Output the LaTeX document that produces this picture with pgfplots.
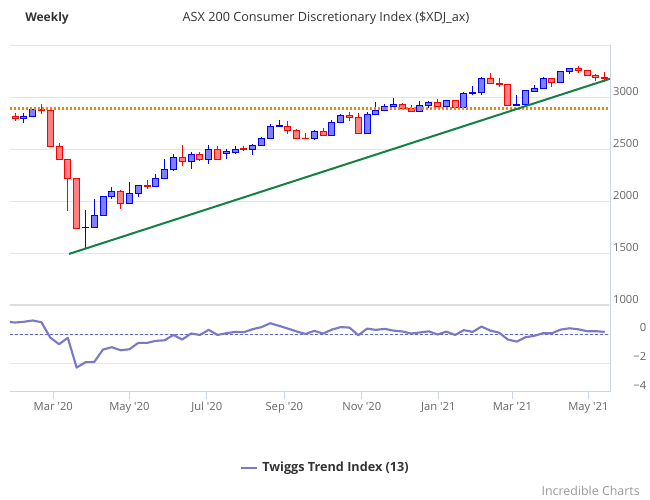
\documentclass[border=0pt]{standalone}
\usepackage{pgfplots}
\pgfplotsset{compat=1.18}
\usepackage{pgfplotstable}
\usepackage{fontspec}
\setmainfont{Open Sans}
\definecolor{upfill}{RGB}{128,128,255}
\definecolor{upline}{RGB}{0,0,255}
\definecolor{dnfill}{RGB}{255,128,128}
\definecolor{dnline}{RGB}{255,0,0}
\definecolor{gridgray}{RGB}{230,230,230}
\definecolor{sepgray}{RGB}{222,222,222}
\definecolor{axisblue}{RGB}{204,214,235}
\definecolor{labelgray}{RGB}{102,102,102}
\definecolor{titlegray}{RGB}{51,51,51}
\definecolor{creditgray}{RGB}{153,153,153}
\definecolor{trendorange}{RGB}{255,128,0}
\definecolor{trendgreen}{RGB}{20,128,70}
\definecolor{tticolor}{RGB}{122,122,196}
\definecolor{zeroblue}{RGB}{100,100,210}

\pgfplotstableread{
i o h l c
0 2814 2846 2776 2798
1 2798 2846 2756 2817
2 2814 2891 2808 2885
3 2881 2936 2840 2875
4 2875 2878 2526 2529
5 2529 2558 2400 2404
6 2404 2404 1910 2221
7 2221 2221 1731 1740
8 1744 1917 1555 1750
9 1750 2022 1750 1865
10 1865 2045 1865 2045
11 2045 2135 2026 2099
12 2099 2109 1930 1981
13 1981 2186 1981 2077
14 2077 2154 2045 2154
15 2154 2202 2122 2147
16 2144 2263 2144 2221
17 2221 2407 2221 2308
18 2308 2455 2295 2423
19 2423 2542 2343 2385
20 2385 2474 2314 2452
21 2452 2474 2391 2404
22 2404 2542 2362 2500
23 2500 2532 2395 2404
24 2455 2500 2410 2474
25 2471 2529 2452 2500
26 2503 2529 2484 2497
27 2500 2551 2449 2538
28 2538 2622 2532 2606
29 2606 2744 2596 2721
30 2718 2779 2715 2724
31 2721 2769 2644 2683
32 2683 2692 2596 2606
33 2608 2654 2602 2604
34 2606 2683 2587 2673
35 2673 2702 2625 2635
36 2635 2779 2635 2760
37 2760 2837 2753 2827
38 2827 2856 2769 2808
39 2808 2846 2652 2654
40 2654 2856 2644 2837
41 2837 2952 2827 2875
42 2875 2933 2865 2913
43 2913 2990 2911 2933
44 2933 2942 2878 2894
45 2894 2923 2856 2865
46 2863 2965 2857 2920
47 2920 2962 2901 2949
48 2949 2984 2904 2911
49 2911 2970 2901 2968
50 2968 2978 2899 2901
51 2901 3054 2895 3035
52 3035 3105 3022 3045
53 3045 3194 3019 3178
54 3178 3229 3128 3131
55 3131 3188 3099 3121
56 3121 3127 2914 2920
57 2924 3019 2920 2930
58 2930 3073 2928 3064
59 3054 3121 3051 3083
60 3083 3194 3076 3178
61 3178 3188 3102 3140
62 3140 3248 3138 3245
63 3245 3283 3226 3274
64 3274 3303 3236 3255
65 3255 3264 3204 3207
66 3207 3226 3156 3188
67 3190 3242 3146 3185
}\ohlc

\pgfplotstableread{
i v
-1 0.86
0 0.81
1 0.86
2 0.95
3 0.83
4 -0.23
5 -0.69
6 -0.25
7 -2.31
8 -1.94
9 -1.92
10 -1.06
11 -0.90
12 -1.11
13 -1.04
14 -0.60
15 -0.60
16 -0.46
17 -0.42
18 -0.05
19 -0.37
20 0.05
21 -0.05
22 0.30
23 -0.05
24 0.07
25 0.16
26 0.14
27 0.35
28 0.49
29 0.76
30 0.58
31 0.39
32 0.19
33 0.02
34 0.23
35 0.05
36 0.32
37 0.49
38 0.46
39 -0.07
40 0.39
41 0.30
42 0.37
43 0.25
44 0.19
45 0.05
46 0.12
47 0.20
48 -0.02
49 0.18
50 -0.05
51 0.28
52 0.16
53 0.53
54 0.25
55 0.11
56 -0.37
57 -0.51
58 -0.21
59 -0.11
60 0.07
61 0.07
62 0.32
63 0.41
64 0.34
65 0.21
66 0.21
67 0.16
}\tti

\pgfplotsset{
  upwick/.style={draw=upline, line width=0.75pt},
  downwick/.style={draw=dnline, line width=0.75pt},
  upbody/.style={draw=upline, fill=upfill, line width=0.75pt},
  downbody/.style={draw=dnline, fill=dnfill, line width=0.75pt},
}
\newcommand\tickfont{\fontsize{8.4pt}{10pt}\selectfont}

\begin{document}
\begin{tikzpicture}
\path[use as bounding box] (0pt,0pt) rectangle (487.5pt,375pt);

% ---------- price panel ----------
\begin{axis}[
  at={(7.5pt,146.025pt)}, anchor=south west, scale only axis,
  width=450pt, height=195pt,
  xmin=-0.57, xmax=67.6, ymin=1000, ymax=3500,
  axis x line=none, axis y line*=right,
  y axis line style={draw=axisblue, line width=0.75pt},
  ytick={1000,1500,2000,2500,3000,3500},
  yticklabels={1000,1500,2000,2500,3000,},
  ymajorgrids, grid style={draw=gridgray, line width=0.75pt},
  major tick length=0pt,
  yticklabel style={anchor=east, inner sep=0pt, xshift=21.75pt, yshift=4.7pt,
    font=\tickfont, text=labelgray},
]
\pgfplotsinvokeforeach{0,...,67}{%
  \pgfplotstablegetelem{#1}{o}\of\ohlc \edef\Ov{\pgfplotsretval}%
  \pgfplotstablegetelem{#1}{h}\of\ohlc \edef\Hv{\pgfplotsretval}%
  \pgfplotstablegetelem{#1}{l}\of\ohlc \edef\Lv{\pgfplotsretval}%
  \pgfplotstablegetelem{#1}{c}\of\ohlc \edef\Cv{\pgfplotsretval}%
  \pgfmathsetmacro\LOv{min(\Ov,\Cv)}%
  \pgfmathsetmacro\HIv{max(\Ov,\Cv)}%
  \pgfmathsetmacro\xa{#1-0.34}%
  \pgfmathsetmacro\xb{#1+0.34}%
  \pgfmathparse{\Cv<\Ov ? 0 : 1}%
  \ifdim\pgfmathresult pt>0.5pt \def\st{up}\else\def\st{down}\fi
  \edef\cmd{\noexpand\addplot[\st wick] coordinates {(#1,\Lv) (#1,\Hv)};%
    \noexpand\addplot[\st body] coordinates {(\xa,\LOv) (\xb,\LOv) (\xb,\HIv) (\xa,\HIv)} -- cycle;}%
  \cmd
}
\addplot[trendorange, line width=1.6pt, dash pattern=on 1.6pt off 1.4pt]
  coordinates {(-0.57,2892) (67.6,2892)};
\addplot[trendgreen, line width=1.5pt] coordinates {(6.14,1494) (67.6,3178)};
\end{axis}

% ---------- indicator panel ----------
\begin{axis}[
  at={(7.5pt,81pt)}, anchor=south west, scale only axis,
  width=450pt, height=65pt,
  xmin=-0.57, xmax=67.6, ymin=-4, ymax=2,
  axis x line*=bottom, axis y line*=right,
  axis line style={draw=axisblue, line width=0.75pt},
  ytick={-4,-2,0}, yticklabels={−4,−2,0},
  ymajorgrids, grid style={draw=gridgray, line width=0.75pt},
  ytick style={draw=none},
  xtick={4.35,12.99,21.78,30.6,39.4,48.1,56.51,65.15},
  xticklabels={Mar \textquotesingle20, May \textquotesingle20, Jul \textquotesingle20,
    Sep \textquotesingle20, Nov \textquotesingle20, Jan \textquotesingle21,
    Mar \textquotesingle21, May \textquotesingle21},
  tick align=outside, major tick length=5.6pt,
  xtick style={draw=axisblue, line width=0.75pt},
  xticklabel style={anchor=north, inner sep=0pt, yshift=-2pt, font=\tickfont, text=labelgray},
  yticklabel style={anchor=east, inner sep=0pt, xshift=21.75pt, yshift=4.7pt,
    font=\tickfont, text=labelgray},
]
\addplot[zeroblue, line width=0.75pt, dash pattern=on 2.25pt off 1.5pt]
  coordinates {(-0.57,0) (67.6,0)};
\addplot[tticolor, line width=1.6pt, line join=round] table[x=i, y=v] {\tti};
\end{axis}

\draw[sepgray, line width=1.5pt] (7.5pt,146.025pt) -- (457.1pt,146.025pt);

% ---------- texts ----------
\node[anchor=west, inner sep=0pt, font=\fontsize{9pt}{11pt}\selectfont\bfseries, text=titlegray]
  at (18.75pt,361.5pt) {Weekly};
\node[inner sep=0pt, font=\fontsize{9.5pt}{11pt}\selectfont, text=titlegray]
  at (244.5pt,361.5pt) {ASX 200 Consumer Discretionary Index (\$XDJ\_ax)};
\draw[tticolor, line width=1.6pt] (180.75pt,24pt) -- (192.75pt,24pt);
\node[anchor=west, inner sep=0pt, font=\fontsize{9.5pt}{11pt}\selectfont\bfseries, text=titlegray]
  at (196.5pt,24pt) {Twiggs Trend Index (13)};
\node[anchor=east, inner sep=0pt, font=\fontsize{9.3pt}{11pt}\selectfont, text=creditgray]
  at (480pt,6.75pt) {Incredible Charts};
\end{tikzpicture}
\end{document}
